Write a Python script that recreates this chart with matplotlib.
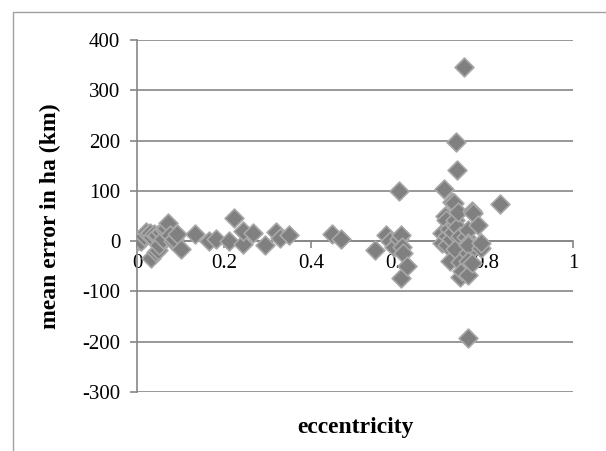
import matplotlib.pyplot as plt
from matplotlib.patches import Rectangle

# ── Data ──────────────────────────────────────────────────────────────────
ECC = [
    # low-eccentricity cluster
    0.000, 0.005, 0.009, 0.015, 0.020, 0.025, 0.030, 0.032, 0.034, 0.040,
    0.044, 0.047, 0.049, 0.051, 0.055, 0.060, 0.064, 0.067, 0.071, 0.075,
    0.082, 0.086, 0.092, 0.100,
    # middle range
    0.132, 0.166, 0.181, 0.212, 0.222, 0.242, 0.243, 0.265, 0.293, 0.318,
    0.329, 0.349, 0.448, 0.467,
    # around 0.6
    0.545, 0.572, 0.581, 0.590, 0.600, 0.602, 0.605, 0.607, 0.610, 0.605,
    0.620,
    # high-eccentricity cluster
    0.699, 0.699, 0.705, 0.706, 0.708, 0.710, 0.712, 0.715, 0.718, 0.720,
    0.722, 0.725, 0.728, 0.729, 0.729, 0.729, 0.731, 0.733, 0.735, 0.737,
    0.740, 0.741, 0.741, 0.745, 0.751, 0.755, 0.759, 0.759, 0.759, 0.760,
    0.760, 0.760, 0.760, 0.768, 0.768, 0.771, 0.782, 0.789, 0.790, 0.832,
]
ERR = [
    0, 3, 1, 10, 19, 14, 17, -33, 8, 15,
    -22, 13, -17, -7, 18, 5, 22, 27, 36, 12,
    0, 5, 15, -15,
    15, 1, 4, 1, 46, -5, 20, 17, -7, 18,
    7, 13, 15, 5,
    -17, 12, 0, -12, 5, 99, 13, -11, -23, -73,
    -50,
    17, -3, 103, 50, 42, 10, -8, 25, -40, 5,
    77, 18, 75, 33, -16, 43, 198, 142, 28, 57,
    -72, 10, -42, -60, 347, 8, 23, -3, -23, -7,
    -40, -68, -192, 60, -43, 55, 33, -14, -3, 73,
]

X_TICKS = [0, 0.2, 0.4, 0.6, 0.8, 1.0]
X_TICK_LABELS = ["0", "0.2", "0.4", "0.6", "0.8", "1"]
Y_TICKS = [-300, -200, -100, 0, 100, 200, 300, 400]

# ── Style ─────────────────────────────────────────────────────────────────
plt.rcParams.update({
    "font.family":        "Liberation Serif",
    "font.size":          15,
    "axes.unicode_minus": False,
})
GRID = "#868686"
FILL = "#808080"
EDGE = "#a8a8a8"

fig = plt.figure(figsize=(6.06, 4.51), dpi=100)
ax = fig.add_axes([137 / 606, 1 - 392 / 451, 436 / 606, 352 / 451])

# outer chart-area frame (only left and top edges fall inside the image)
fig.patches.append(Rectangle((13 / 606, -0.1), 1.2, 1 - 12 / 451 + 0.1,
                             transform=fig.transFigure, fill=False,
                             edgecolor="#a0a0a0", linewidth=1.0))

ax.scatter(ECC, ERR, marker="D", s=92, color=FILL, edgecolors=EDGE,
           linewidths=1.2, zorder=3)

ax.set_xlim(0, 1)
ax.set_ylim(-300, 400)
ax.set_xticks(X_TICKS)
ax.set_xticklabels(X_TICK_LABELS)
ax.set_yticks(Y_TICKS)

for s in ("top", "right"):
    ax.spines[s].set_visible(False)
ax.spines["bottom"].set_position(("data", 0))
for s in ("bottom", "left"):
    ax.spines[s].set_color(GRID)
    ax.spines[s].set_linewidth(1.2)

ax.grid(True, axis="y", color=GRID, linewidth=1.2)
ax.set_axisbelow(True)
ax.tick_params(axis="both", color=GRID, width=1.2, length=5, labelsize=15)
ax.tick_params(axis="x", pad=4)
ax.tick_params(axis="y", pad=7)

ax.set_xlabel("eccentricity", fontsize=17, fontweight="bold")
ax.xaxis.set_label_coords(0.5, -0.07)
ax.set_ylabel("mean error in ha (km)", fontsize=17, fontweight="bold")
ax.yaxis.set_label_coords(-0.175, 0.5)

fig.savefig("out.png", dpi=100)
